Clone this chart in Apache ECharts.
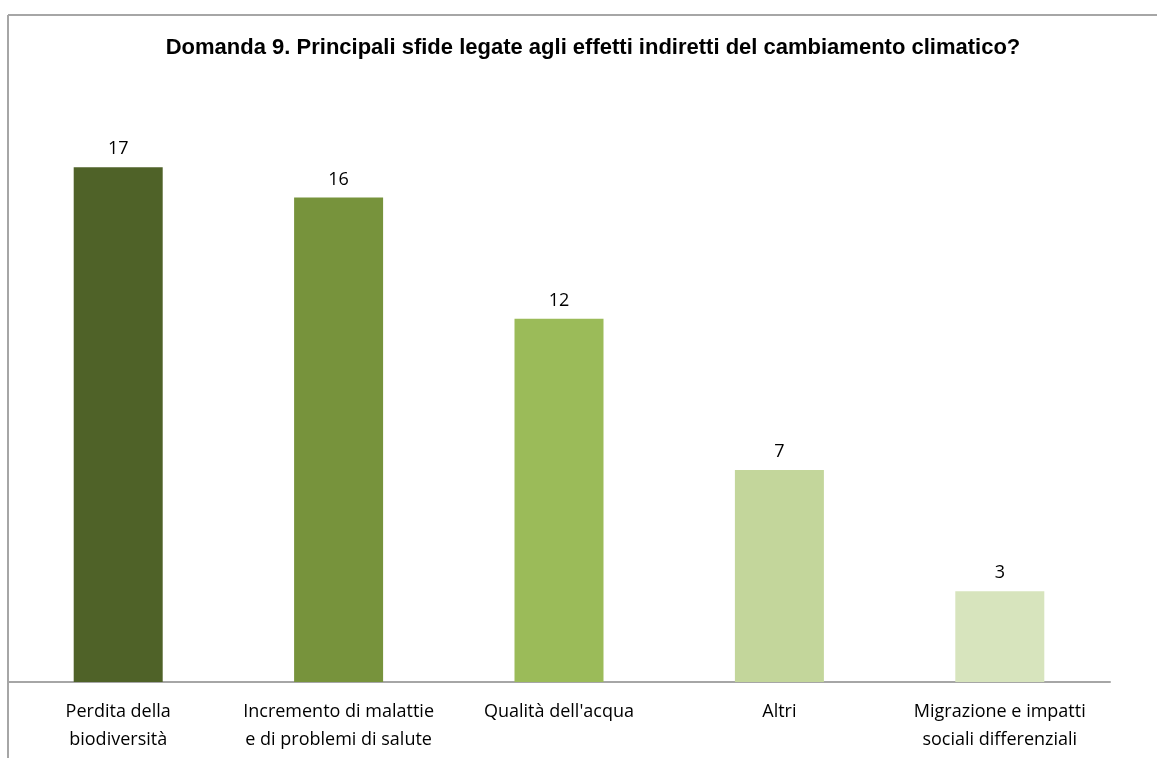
<!DOCTYPE html>
<html>
<head>
<meta charset="utf-8">
<script src="https://cdn.jsdelivr.net/npm/echarts@6/dist/echarts.min.js"></script>
<style>
  html, body { margin: 0; padding: 0; background: #fff; }
  #chart { width: 1157px; height: 758px; }
</style>
</head>
<body>
<div id="chart"></div>
<script>
// 数据
const categories = [
  'Perdita della\nbiodiversità',
  'Incremento di malattie\ne di problemi di salute',
  "Qualità dell'acqua",
  'Altri',
  'Migrazione e impatti\nsociali differenziali'
]
const values = [17, 16, 12, 7, 3]
const barColors = ['#4f6228', '#77933c', '#9bbb59', '#c3d69b', '#d7e4bd']

const myChart = echarts.init(document.getElementById('chart'))

const option = {
  backgroundColor: '#fff',
  title: {
    text: 'Domanda 9. Principali sfide legate agli effetti indiretti del cambiamento climatico?',
    left: 588,
    top: 32,
    textAlign: 'center',
    textStyle: {
      fontFamily: 'Liberation Sans',
      fontSize: 22,
      fontWeight: 'bold',
      color: '#000'
    }
  },
  // 外框
  graphic: [
    { type: 'line', shape: { x1: 8, y1: 15, x2: 1157, y2: 15 }, style: { stroke: '#a6a6a6', lineWidth: 2 } },
    { type: 'line', shape: { x1: 8, y1: 15, x2: 8, y2: 758 }, style: { stroke: '#a6a6a6', lineWidth: 2 } }
  ],
  grid: {
    left: 8,
    right: 47,
    top: 137,
    bottom: 76
  },
  xAxis: {
    type: 'category',
    data: categories,
    axisTick: { show: false },
    axisLine: { lineStyle: { color: '#a6a6a6', width: 2 } },
    axisLabel: {
      interval: 0,
      margin: 16,
      color: '#000',
      fontFamily: 'Open Sans',
      fontSize: 18,
      lineHeight: 28
    }
  },
  yAxis: {
    type: 'value',
    min: 0,
    max: 18,
    show: false,
    splitLine: { show: false }
  },
  series: [
    {
      type: 'bar',
      barWidth: 89,
      data: values.map((v, i) => ({ value: v, itemStyle: { color: barColors[i] } })),
      label: {
        show: true,
        position: 'top',
        distance: 9,
        color: '#000',
        fontFamily: 'Open Sans',
        fontSize: 18
      }
    }
  ]
}

myChart.setOption(option)
</script>
</body>
</html>
